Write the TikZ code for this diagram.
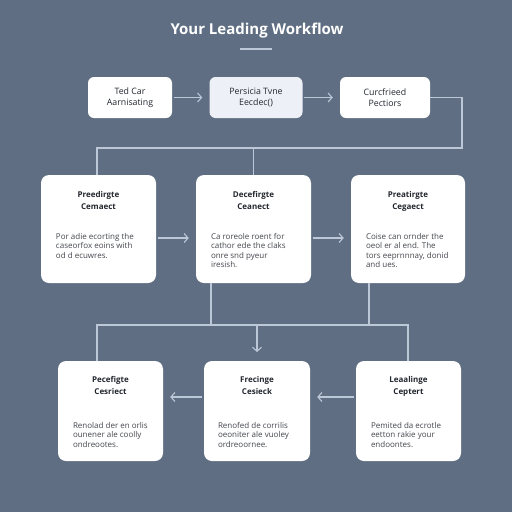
\documentclass[tikz,border=0pt]{standalone}
\usepackage{fontspec}
\setmainfont{Open Sans}
\usetikzlibrary{arrows.meta,positioning}
\definecolor{slate}{HTML}{5F6E82}
\definecolor{wire}{HTML}{BCC7D8}
\definecolor{ink}{HTML}{23272E}
\definecolor{pale}{HTML}{EDF0F6}
\begin{document}
\begin{tikzpicture}[x=1pt,y=-1pt,
  card/.style={fill=white,rounded corners=8pt},
  topcard/.style={fill=white,rounded corners=6pt,minimum height=41pt,align=center,
    text=ink,font=\fontsize{8.8}{10.5}\selectfont},
  head/.style={inner sep=0pt,align=center,text=ink,font=\fontsize{8}{12}\selectfont\bfseries},
  body/.style={inner sep=0pt,align=left,anchor=north west,text=ink!85,font=\fontsize{8}{9.6}\selectfont},
  wireline/.style={draw=wire,line width=1.1pt},
  flow/.style={wireline,-{Straight Barb[length=4pt,width=9pt]},shorten >=7pt,shorten <=1.5pt}]
\useasboundingbox (0,0) rectangle (512,512);
\fill[slate] (0,0) rectangle (512,512);

% title
\node[text=white,font=\fontsize{15}{18}\selectfont\bfseries] (title) at (257,31) {Your Leading Workflow};
\draw[wire,line width=1.3pt] (240,49) -- (272,49);

% top row
\node[topcard,minimum width=84pt] (b1) at (130,97.5) {Ted Car\\Aarnisating};
\node[topcard,minimum width=93pt,fill=pale] (b2) at (256,97.5) {Persicia Tvne\\Eecdec()};
\node[topcard,minimum width=90pt] (b3) at (385,97.5) {Curcfrieed\\Pectiors};
\draw[flow] (b1) -- (b2);
\draw[flow] (b2) -- (b3);

% middle row
\node[card,minimum width=115pt,minimum height=108pt] (b4) at (98.5,229) {};
\node[card,minimum width=115pt,minimum height=108pt] (b5) at (253.5,229) {};
\node[card,minimum width=114pt,minimum height=108pt] (b6) at (408,229) {};
\node[head,below=16pt of b4.north] (b4h) {Preedirgte\\Cemaect};
\node[body] (b4b) at ([xshift=15pt,yshift=-58pt]b4.north west) {Por adie ecorting the\\caseorfox eoins with\\od d ecuwres.};
\node[head,below=16pt of b5.north] (b5h) {Decefirgte\\Ceanect};
\node[body] (b5b) at ([xshift=15pt,yshift=-58pt]b5.north west) {Ca roreole roent for\\cathor ede the claks\\onre snd pyeur\\iresish.};
\node[head,below=16pt of b6.north] (b6h) {Preatirgte\\Cegaect};
\node[body] (b6b) at ([xshift=15pt,yshift=-58pt]b6.north west) {Coise can ornder the\\oeol er al end. The\\tors eeprnnnay, donid\\and ues.};
\draw[flow] ([yshift=-9pt]b4.east) -- ([yshift=-9pt]b5.west);
\draw[flow] ([yshift=-9pt]b5.east) -- ([yshift=-9pt]b6.west);

% bottom row
\node[card,minimum width=105pt,minimum height=100pt] (b7) at (110.5,411) {};
\node[card,minimum width=106pt,minimum height=100pt] (b8) at (257,411) {};
\node[card,minimum width=105pt,minimum height=100pt] (b9) at (408.5,411) {};
\node[head,below=15pt of b7.north] (b7h) {Pecefigte\\Cesriect};
\node[body] (b7b) at ([xshift=15pt,yshift=-61pt]b7.north west) {Renolad der en orlis\\ounener ale coolly\\ondreootes.};
\node[head,below=15pt of b8.north] (b8h) {Frecinge\\Cesieck};
\node[body] (b8b) at ([xshift=14pt,yshift=-61pt]b8.north west) {Renofed de corrilis\\oeoniter ale vuoley\\ordreoornee.};
\node[head,below=15pt of b9.north] (b9h) {Leaalinge\\Ceptert};
\node[body] (b9b) at ([xshift=15pt,yshift=-61pt]b9.north west) {Pemited da ecrotle\\eetton rakie your\\endoontes.};
\draw[flow] ([yshift=14pt]b8.west) -- ([yshift=14pt]b7.east);
\draw[flow] ([yshift=14pt]b9.west) -- ([yshift=14pt]b8.east);

% joins
\coordinate (r1) at (462,148);
\coordinate (l1) at (97,148);
\coordinate (jl) at (97,325);
\coordinate (jr) at (408,325);
\coordinate (j5) at (211,325);
\coordinate (j6) at (369,325);
\coordinate (jm) at (257,325);
\coordinate (ja) at (257,352);
\draw[wireline] (b3.east) -| (r1) -- (l1) -- (l1 |- b4.north);
\draw[wireline] (b5.north) -- (b5.north |- l1);
\draw[wireline] (b5.south -| j5) -- (j5);
\draw[wireline] (b6.south -| j6) -- (j6);
\draw[wireline] (b7.north -| jl) -- (jl) -- (jr) -- (b9.north -| jr);
\draw[flow,shorten >=0pt,shorten <=0pt] (jm) -- (ja);
\end{tikzpicture}
\end{document}
